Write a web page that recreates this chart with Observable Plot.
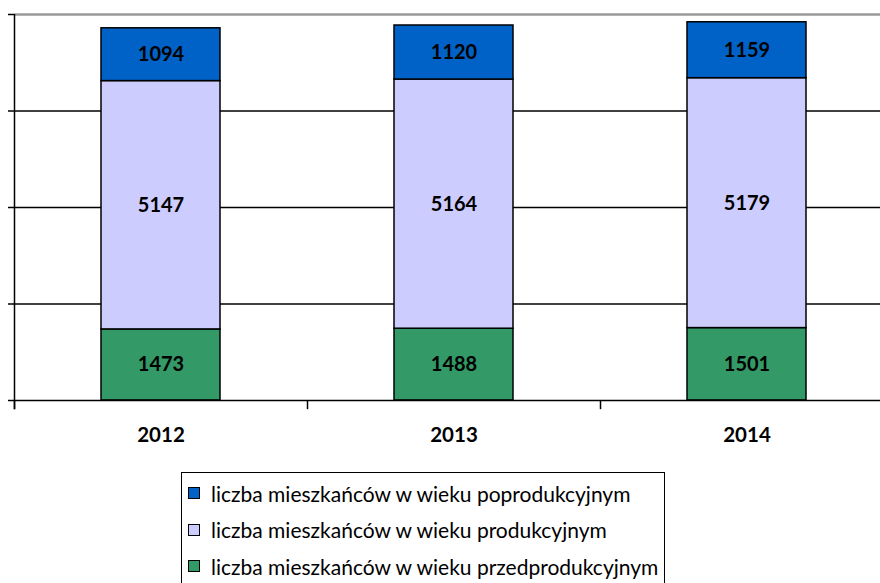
<!DOCTYPE html>
<html>
<head>
<meta charset="utf-8">
<script src="https://cdn.jsdelivr.net/npm/d3@7"></script>
<script src="https://cdn.jsdelivr.net/npm/@observablehq/plot@0.6"></script>
<style>
  html, body { margin: 0; padding: 0; background: #fff; overflow: hidden; }
  body { width: 880px; height: 583px; position: relative; font-family: Lato, sans-serif; }
  #chart { position: absolute; left: 0; top: 0; }
  #legend {
    position: absolute; left: 181px; top: 472px; width: 484px; height: 140px;
    border: 1.5px solid #000; box-sizing: border-box; background: #fff;
  }
  .item { position: absolute; left: 6px; height: 22px; display: flex; align-items: center;
    font-size: 21px; color: #000; white-space: nowrap; }
  .sw { width: 10px; height: 10px; border: 1.5px solid #000; margin-right: 11px; flex: none; }
</style>
</head>
<body>
<div id="chart"></div>
<div id="legend"></div>
<script>
const years = ["2012", "2013", "2014"];
const series = [
  "liczba mieszkańców w wieku przedprodukcyjnym",
  "liczba mieszkańców w wieku produkcyjnym",
  "liczba mieszkańców w wieku poprodukcyjnym"
];
const przedprodukcyjny = [1473, 1488, 1501];
const produkcyjny = [5147, 5164, 5179];
const poprodukcyjny = [1094, 1120, 1159];
const colors = ["#339966", "#CCCCFF", "#0062C6"];
const yTicks = [0, 2000, 4000, 6000, 8000];

const valuesBySeries = [przedprodukcyjny, produkcyjny, poprodukcyjny];
const data = [];
series.forEach((s, si) => years.forEach((y, yi) => data.push({year: y, series: s, value: valuesBySeries[si][yi]})));

const plot = Plot.plot({
  width: 880,
  height: 460,
  marginTop: 14,
  marginBottom: 60,
  marginLeft: 14,
  marginRight: 0,
  style: {fontFamily: "Lato, sans-serif", background: "transparent", overflow: "visible"},
  x: {domain: years, range: [14, 893], paddingInner: 0.594, paddingOuter: 0.297, label: null},
  y: {domain: [0, 8000], label: null},
  color: {domain: series, range: colors},
  marks: [
    Plot.ruleY([2000, 4000, 6000], {stroke: "#000", strokeWidth: 1.4}),
    Plot.ruleY([8000], {stroke: "#999", strokeWidth: 2.5}),
    Plot.barY(data, Plot.stackY({x: "year", y: "value", fill: "series", order: series, stroke: "#000", strokeWidth: 1.5, insetLeft: 0, insetRight: 0})),
    Plot.text(data, Plot.stackY({x: "year", y: "value", z: "series", order: series, text: d => String(d.value), fill: "#000", fontWeight: "bold", fontSize: 20})),
    Plot.ruleY([0], {stroke: "#000", strokeWidth: 1.5}),
    Plot.ruleX(years, {x: d => d, y1: 0, y2: -190, dx: -146.5, stroke: "#000", strokeWidth: 1.5}),
    Plot.ruleX(years.slice(0, 1), {x: d => d, y1: 8000, y2: -190, dx: -146.5, stroke: "#000", strokeWidth: 1.5}),
    Plot.axisY({ticks: yTicks, tickSize: 6, tickFormat: () => "", stroke: "#000", strokeWidth: 1.5}),
    Plot.axisX({tickSize: 0, tickPadding: 27, fontSize: 20.5, fontWeight: "bold", fill: "#000", label: null})
  ]
});
document.getElementById("chart").appendChild(plot);

const legend = document.getElementById("legend");
const legendOrder = [2, 1, 0];
legendOrder.forEach((si, i) => {
  const item = document.createElement("div");
  item.className = "item";
  item.style.top = (9 + i * 36.5) + "px";
  const sw = document.createElement("span");
  sw.className = "sw";
  sw.style.background = colors[si];
  item.appendChild(sw);
  item.appendChild(document.createTextNode(series[si]));
  legend.appendChild(item);
});
</script>
</body>
</html>
